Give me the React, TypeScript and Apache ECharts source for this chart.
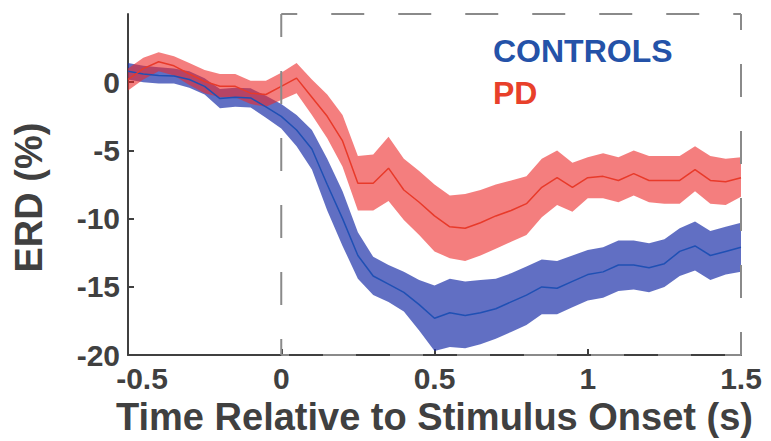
import React, { useEffect, useRef } from "react";
import * as echarts from "echarts";

// Time (s) of each sample
const TIME = [
  -0.5, -0.45, -0.4, -0.35, -0.3, -0.25, -0.2, -0.15, -0.1, -0.05,
  0, 0.05, 0.1, 0.15, 0.2, 0.25, 0.3, 0.35, 0.4, 0.45,
  0.5, 0.55, 0.6, 0.65, 0.7, 0.75, 0.8, 0.85, 0.9, 0.95,
  1.0, 1.05, 1.1, 1.15, 1.2, 1.25, 1.3, 1.35, 1.4, 1.45, 1.5,
];

// CONTROLS: mean ERD (%) and shaded band limits
const CTRL_MEAN = [
  0.8, 0.6, 0.5, 0.45, 0.2, -0.3, -1.2, -1.1, -1.15, -1.8,
  -2.5, -3.5, -4.9, -7.5, -10.0, -12.7, -14.2, -14.8, -15.4, -16.3,
  -17.3, -16.9, -17.1, -16.9, -16.6, -16.1, -15.6, -15.0, -15.1, -14.6,
  -14.1, -13.9, -13.4, -13.4, -13.6, -13.3, -12.4, -12.0, -12.7, -12.4, -12.1,
];
const CTRL_HI = [
  1.4, 1.2, 1.1, 1.0, 0.8, 0.3, -0.5, -0.4, -0.45, -1.0,
  -1.6, -2.4, -3.5, -5.6, -8.0, -11.0, -12.8, -13.4, -13.9, -14.5,
  -14.9, -14.4, -14.6, -14.5, -14.4, -14.0, -13.5, -13.0, -13.1, -12.7,
  -12.3, -12.1, -11.6, -11.6, -11.8, -11.5, -10.7, -10.2, -10.9, -10.6, -10.3,
];
const CTRL_LO = [
  0.2, 0.0, -0.1, -0.1, -0.4, -0.9, -1.9, -1.8, -1.85, -2.6,
  -3.4, -4.7, -6.4, -9.4, -12.0, -14.4, -15.6, -16.1, -16.8, -18.2,
  -19.7, -19.4, -19.5, -19.2, -18.8, -18.3, -17.8, -17.0, -17.0, -16.5,
  -16.0, -15.8, -15.3, -15.2, -15.4, -15.0, -14.2, -13.8, -14.5, -14.1, -13.9,
];

// PD: mean ERD (%) and shaded band limits
const PD_MEAN = [
  0.2, 1.0, 1.5, 1.2, 0.6, 0.05, -0.3, -0.3, -0.8, -0.9,
  -0.3, 0.3, -1.1, -2.5, -4.3, -7.4, -7.4, -6.3, -7.9, -8.8,
  -9.8, -10.6, -10.7, -10.3, -9.8, -9.4, -8.9, -7.7, -7.0, -7.7,
  -7.0, -6.9, -7.2, -6.7, -7.2, -7.2, -7.2, -6.4, -7.2, -7.3, -7.0,
];
const PD_HI = [
  1.0, 1.8, 2.2, 1.9, 1.4, 0.9, 0.6, 0.6, 0.1, 0.1,
  0.7, 1.4, 0.2, -0.9, -2.4, -5.4, -5.3, -4.0, -5.6, -6.5,
  -7.5, -8.3, -8.2, -7.9, -7.5, -7.2, -6.9, -5.6, -5.0, -5.9,
  -5.5, -5.2, -5.5, -5.0, -5.4, -5.4, -5.4, -4.7, -5.4, -5.6, -5.5,
];
const PD_LO = [
  -0.6, 0.2, 0.8, 0.5, -0.2, -0.8, -1.1, -1.1, -1.6, -1.8,
  -1.3, -0.8, -2.4, -4.1, -6.2, -9.4, -9.4, -8.7, -10.1, -11.2,
  -12.4, -12.9, -13.1, -12.7, -12.2, -11.7, -11.2, -9.9, -9.0, -9.5,
  -8.5, -8.5, -8.8, -8.3, -8.8, -8.9, -8.9, -8.0, -8.9, -9.0, -8.4,
];

// Stimulus window (dashed box): time range and ERD range
const BOX_T = [0, 1.5];
const BOX_V = [-20, 5];

const FONT = "'Liberation Sans', Helvetica, Arial, sans-serif";
const AXIS_COLOR = "#404040";

function bandSeries(name: string, lo: number[], hi: number[], fill: string, z: number) {
  const data = TIME.map((t, i) => [t, lo[i], hi[i]]);
  return {
    type: "custom",
    name,
    silent: true,
    z,
    encode: { x: 0, y: [1, 2] },
    data,
    renderItem: (params: any, api: any) => {
      if (params.dataIndex !== 0) return null;
      const upper = data.map((d) => api.coord([d[0], d[2]]));
      const lower = data.map((d) => api.coord([d[0], d[1]])).reverse();
      return {
        type: "polygon",
        shape: { points: upper.concat(lower) },
        style: { fill, stroke: "none" },
      };
    },
  };
}

export default function App() {
  const ref = useRef<HTMLDivElement>(null);

  useEffect(() => {
    const chart = echarts.init(ref.current!, null, { renderer: "svg" });
    const pairs = (ys: number[]) => TIME.map((t, i) => [t, ys[i]]);

    const [t0, t1] = BOX_T;
    const [v0, v1] = BOX_V;
    const edges = [
      [[t0, v0], [t0, v1]],
      [[t0, v1], [t1, v1]],
      [[t1, v1], [t1, v0]],
      [[t1, v0], [t0, v0]],
    ];

    chart.setOption({
      animation: false,
      grid: { left: 128, top: 14, width: 613, height: 343 },
      legend: {
        orient: "vertical",
        left: 483,
        top: 30,
        itemWidth: 0,
        itemHeight: 0,
        itemGap: 10,
        icon: "rect",
        selectedMode: false,
        textStyle: { fontSize: 32, fontWeight: "bold", fontFamily: FONT },
        data: [
          { name: "CONTROLS", textStyle: { color: "#2452a8" } },
          { name: "PD", textStyle: { color: "#e8402a" } },
        ],
      },
      xAxis: {
        type: "value",
        min: -0.5,
        max: 1.5,
        interval: 0.5,
        splitLine: { show: false },
        axisLine: { show: true, onZero: false, lineStyle: { color: AXIS_COLOR, width: 2 } },
        axisTick: { show: true, inside: true, length: 6, lineStyle: { color: AXIS_COLOR, width: 2 } },
        axisLabel: {
          color: AXIS_COLOR,
          fontSize: 30,
          fontWeight: "bold",
          fontFamily: FONT,
          margin: 8,
          formatter: (v: number) => (v === -0.5 ? "{m|-0.5}" : String(v)),
          rich: {
            m: {
              padding: [0, 0, 0, 28],
              fontSize: 30,
              fontWeight: "bold",
              fontFamily: FONT,
              color: AXIS_COLOR,
            },
          },
        },
        name: "Time Relative to Stimulus Onset (s)",
        nameLocation: "middle",
        nameGap: 35,
        nameTextStyle: { color: AXIS_COLOR, fontSize: 38, fontWeight: "bold", fontFamily: FONT },
      },
      yAxis: {
        type: "value",
        min: -20,
        max: 5,
        interval: 5,
        splitLine: { show: false },
        axisLine: { show: true, onZero: false, lineStyle: { color: AXIS_COLOR, width: 2 } },
        axisTick: { show: true, inside: true, length: 6, lineStyle: { color: AXIS_COLOR, width: 2 } },
        axisLabel: {
          color: AXIS_COLOR,
          fontSize: 30,
          fontWeight: "bold",
          fontFamily: FONT,
          margin: 8,
          showMaxLabel: false,
          padding: [0, 0, 12, 0],
        },
        name: "ERD (%)",
        nameLocation: "middle",
        nameRotate: 90,
        nameGap: 80,
        nameTextStyle: {
          color: AXIS_COLOR,
          fontSize: 38,
          fontWeight: "bold",
          fontFamily: FONT,
          padding: [0, 26, 0, 0],
        },
      },
      series: [
        bandSeries("ctrl_band", CTRL_LO, CTRL_HI, "rgba(30,50,170,0.7)", 2),
        bandSeries("pd_band", PD_LO, PD_HI, "rgba(236,40,40,0.6)", 3),
        {
          type: "line",
          name: "CONTROLS",
          data: pairs(CTRL_MEAN),
          symbol: "none",
          color: "#2452a8",
          lineStyle: { color: "#1f50b4", width: 1.5 },
          z: 4,
        },
        {
          type: "line",
          name: "PD",
          data: pairs(PD_MEAN),
          symbol: "none",
          color: "#e8402a",
          lineStyle: { color: "#e83a2a", width: 1.5 },
          z: 4,
        },
        ...edges.map((e, i) => ({
          type: "line",
          name: "box" + i,
          data: e,
          symbol: "none",
          silent: true,
          lineStyle: { color: "#8a8a8a", width: 2, type: [33, 34], dashOffset: 17 },
          z: 5,
        })),
      ],
    });

    return () => chart.dispose();
  }, []);

  return (
    <div
      ref={ref}
      style={{ position: "fixed", left: 0, top: 0, width: 771, height: 441, background: "#fff" }}
    />
  );
}
